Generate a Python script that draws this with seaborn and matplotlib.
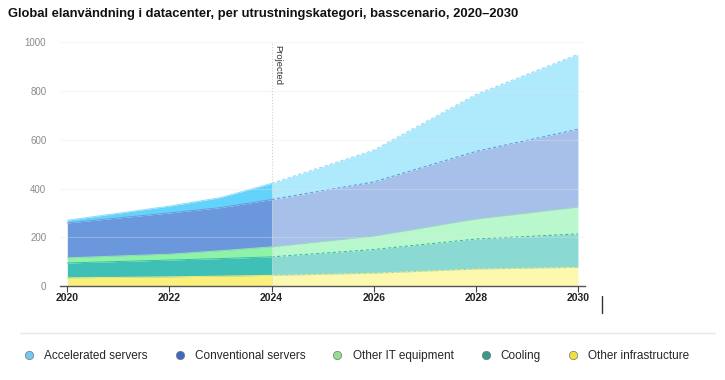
import pandas as pd
import matplotlib.pyplot as plt
import seaborn as sns
from matplotlib.lines import Line2D

# Data (TWh per category, base scenario)
years = [2020, 2022, 2023, 2024, 2026, 2028, 2030]
accelerated = [11, 28, 41, 66, 130, 233, 307]
conventional = [143, 169, 177, 194, 222, 277, 319]
other_it = [21, 24, 32, 41, 55, 82, 110]
cooling = [61, 69, 72, 76, 97, 123, 137]
other_infra = [34, 38, 41, 44, 53, 70, 77]

categories = ['Accelerated servers', 'Conventional servers', 'Other IT equipment',
              'Cooling', 'Other infrastructure']
y_ticks = [0, 200, 400, 600, 800, 1000]
x_ticks = [2020, 2022, 2024, 2026, 2028, 2030]
split_year = 2024

solid_cols = ['#fbf07c', '#3fc0b6', '#8ef3a6', '#6b98dc', '#63d3fb']
light_cols = ['#fdf8b0', '#8ad9d2', '#b9f8cc', '#a7c0ea', '#aeeafc']
edge_cols = ['#f5e970', '#3cbfa8', '#8ee8a8', '#6e98dc', '#8fdcf8']
legend_cols = ['#74c7ef', '#4068c0', '#90e090', '#3a9a88', '#f0e040']

df = pd.DataFrame({'year': years, 'Other infrastructure': other_infra, 'Cooling': cooling,
                   'Other IT equipment': other_it, 'Conventional servers': conventional,
                   'Accelerated servers': accelerated})
stack_order = categories[::-1]

sns.set_theme(style='white')
plt.rcParams['font.family'] = ['Liberation Sans', 'DejaVu Sans']

fig = plt.figure(figsize=(7.25, 3.8), dpi=100)
ax = fig.add_axes([0.083, 0.247, 0.724, 0.642])

hist = df[df['year'] <= split_year]
proj = df[df['year'] >= split_year]

ax.stackplot(hist['year'], *[hist[c] for c in stack_order], colors=solid_cols, linewidth=0)
ax.stackplot(proj['year'], *[proj[c] for c in stack_order], colors=light_cols, linewidth=0)

# boundary lines: thin on the historical part, dashed on the projection
cum = df[stack_order].cumsum(axis=1)
cum['year'] = df['year']
for c, ec in zip(stack_order, edge_cols):
    sns.lineplot(data=cum[cum['year'] <= split_year], x='year', y=c, ax=ax,
                 color=ec, linewidth=0.7, legend=False)
    sns.lineplot(data=cum[cum['year'] >= split_year], x='year', y=c, ax=ax,
                 color=ec, linewidth=0.8, linestyle=(0, (3, 2)), legend=False)

ax.set_xlim(2019.86, 2030.14)
ax.set_ylim(0, 1000)
ax.set_yticks(y_ticks)
ax.set_xticks(x_ticks)
ax.set_xlabel('')
ax.set_ylabel('')
ax.grid(axis='y', color='#e6e6e6', linewidth=0.8, alpha=0.35)
ax.set_axisbelow(False)
for s in ['top', 'right', 'left']:
    ax.spines[s].set_visible(False)
ax.spines['bottom'].set_color('#555555')
ax.spines['bottom'].set_linewidth(1.0)
ax.tick_params(axis='x', bottom=True, length=4, width=0.8, color='#444444',
               labelsize=7.5, labelcolor='#222222', pad=1)
ax.tick_params(axis='y', left=False, labelsize=7, labelcolor='#8a8a8a', pad=4)
for lbl in ax.get_xticklabels():
    lbl.set_fontweight('bold')

ax.axvline(split_year, color='#cfcfcf', linestyle=':', linewidth=0.8, zorder=5)
ax.text(split_year + 0.03, 990, 'Projected', rotation=270, ha='left', va='top',
        fontsize=6.8, color='#333333')

fig.text(0.011, 0.962, 'Global elanvändning i datacenter, per utrustningskategori, basscenario, 2020–2030',
         fontsize=9.4, fontweight='bold', color='#111111', va='center')

fig.add_artist(Line2D([0.028, 0.986], [1 - 333 / 380] * 2, color='#e8e8e8', linewidth=1))
fig.add_artist(Line2D([602 / 725] * 2, [1 - 296 / 380, 1 - 313 / 380], color='#333333', linewidth=1))

handles = [Line2D([], [], marker='o', linestyle='', markersize=6, markerfacecolor=c,
                  markeredgecolor='#777777', markeredgewidth=0.5) for c in legend_cols]
fig.legend(handles, categories, loc='center left', bbox_to_anchor=(0.017, 0.063), ncol=5,
           frameon=False, fontsize=8.5, handletextpad=0.3, columnspacing=1.7, borderaxespad=0)

plt.savefig('out.png', dpi=100)
